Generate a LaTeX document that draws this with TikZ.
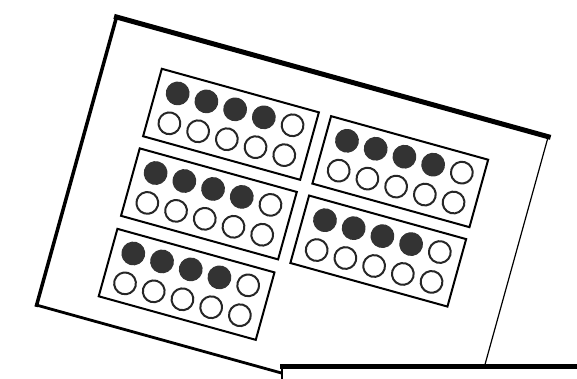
\documentclass[tikz,border=0pt]{standalone}
\tikzset{
  cardtop/.style={line width=5pt, line cap=rect},
  cardleft/.style={line width=3.5pt, line cap=rect},
  cardbottom/.style={line width=2.8pt, line cap=rect},
  cardright/.style={line width=1.2pt, line cap=rect},
  tenframe/.style={draw=black, line width=2pt, line join=miter},
  fullbead/.style={fill=black!80, draw=black!80, line width=1pt},
  emptybead/.style={draw=black!85, fill=white, line width=2pt},
}
\begin{document}
\begin{tikzpicture}[x=1pt,y=-1pt]
\useasboundingbox (0,0) rectangle (577,379);
\clip (0,0) rectangle (577,379);
\fill[white] (0,0) rectangle (577,379);
% rotated card
\begin{scope}[shift={(116.5,17)}, rotate=-15.5]
  \fill[white] (0,0) rectangle (448,299);
  \coordinate (ctl) at (0,0);
  \coordinate (ctr) at (448,0);
  \coordinate (cbl) at (0,299);
  \coordinate (cbr) at (448,299);
  \draw[cardbottom] (cbl) -- (cbr);
  \draw[cardright] (ctr) -- (cbr);
  \draw[cardleft] (ctl) -- (cbl);
  \draw[cardtop] (ctl) -- (ctr);
  \foreach \cu/\cv in {139/72.8, 314.8/73.2, 139/155.4, 314.8/155.6, 139/238.9}{
    \draw[tenframe] (\cu-81.5,\cv-35) rectangle (\cu+81.5,\cv+35);
    \foreach \i in {0,1,2,3}{
      \draw[fullbead] (\cu-59.6+\i*29.8,\cv-15.5) circle (11.4);
    }
    \draw[emptybead] (\cu+59.6,\cv-15.5) circle (10.9);
    \foreach \i in {0,1,2,3,4}{
      \draw[emptybead] (\cu-59.6+\i*29.8,\cv+15.5) circle (10.9);
    }
  }
\end{scope}
% second card lying on top, at the bottom
\coordinate (stl) at (282,366.5);
\coordinate (str) at (600,366.5);
\coordinate (sbl) at (282,400);
\fill[white] (stl) rectangle (600,400);
\draw[line width=2pt] (stl) -- (sbl);
\draw[line width=4.5pt, line cap=rect] (stl) -- (str);
\end{tikzpicture}
\end{document}
